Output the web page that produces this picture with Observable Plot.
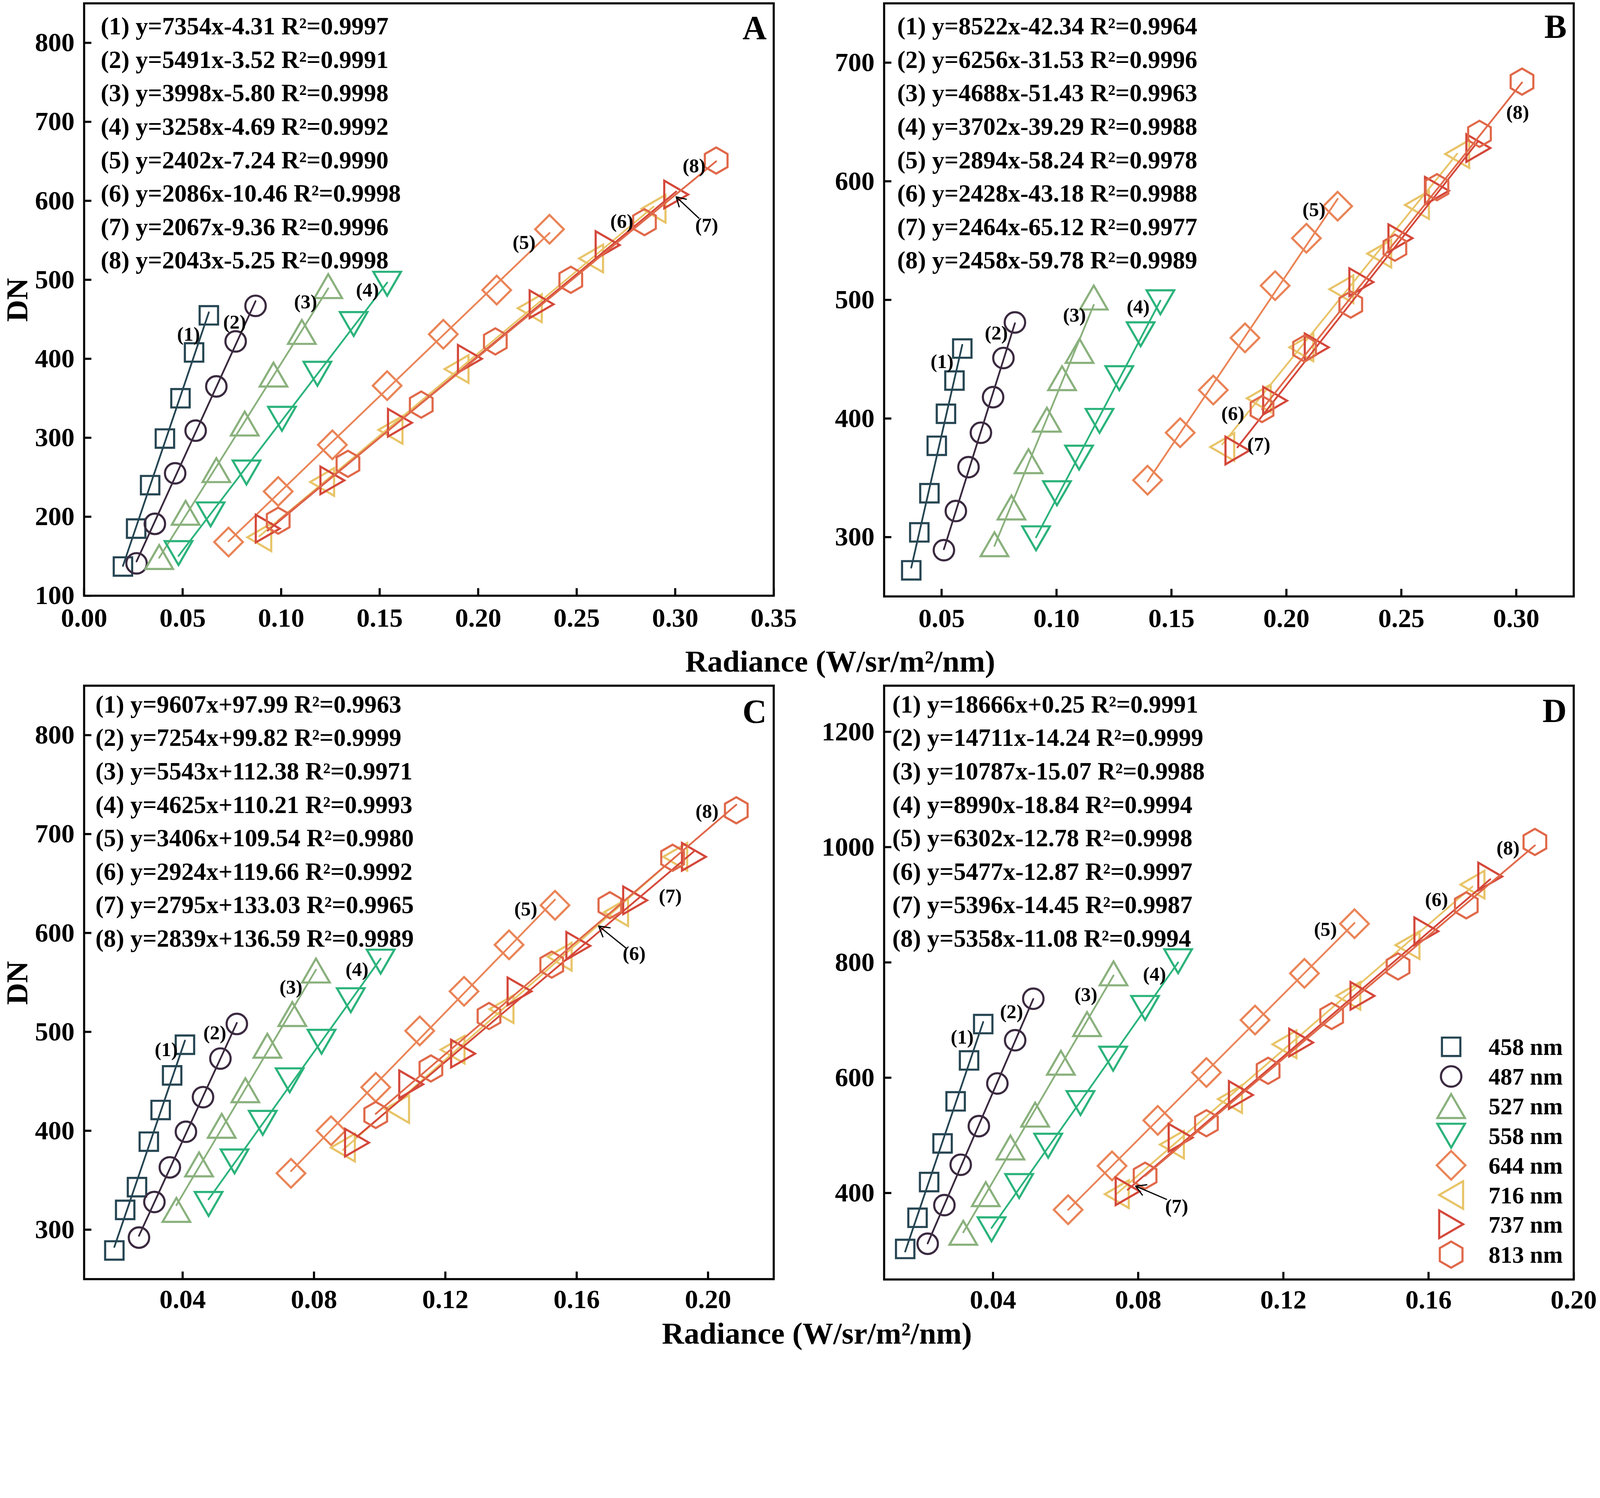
<!DOCTYPE html>
<html><head><meta charset="utf-8">
<script src="https://cdn.jsdelivr.net/npm/d3@7"></script>
<script src="https://cdn.jsdelivr.net/npm/@observablehq/plot@0.6"></script>
<style>
html,body{margin:0;padding:0;background:#fff;overflow:hidden;}
#page{position:relative;width:4536px;height:3834px;background:#fff;overflow:hidden;transform-origin:0 0;}
.panel{position:absolute;}
#overlay{position:absolute;left:0;top:0;pointer-events:none;}
</style></head>
<body><div id="page"></div>
<script>
// ---------------- data ----------------
const wavelengths = ["458 nm","487 nm","527 nm","558 nm","644 nm","716 nm","737 nm","813 nm"];
const COLORS = ["#264653","#3b2a40","#8ab17d","#2bb37b","#ea8457","#e8c468","#d4473a","#e0694a"];

// Panel A
const radA = [
  [0.0197,0.0264,0.0335,0.0410,0.0489,0.0558,0.0633],
  [0.0266,0.0359,0.0462,0.0566,0.0671,0.0769,0.0870],
  [0.0381,0.0515,0.0671,0.0815,0.0961,0.1105,0.1239],
  [0.0479,0.0642,0.0824,0.1004,0.1184,0.1368,0.1538],
  [0.0733,0.0985,0.1260,0.1538,0.1823,0.2094,0.2362],
  [0.0889,0.1208,0.1555,0.1890,0.2262,0.2573,0.2890],
  [0.0932,0.1260,0.1603,0.1958,0.2322,0.2657,0.3005],
  [0.0985,0.1339,0.1711,0.2087,0.2470,0.2844,0.3208]];
const dnA = [
  [137,185,240,299,350,408,455],
  [141,191,255,309,365,422,467],
  [149,205,259,318,380,434,492],
  [154,203,256,324,381,444,495],
  [168,232,291,366,431,487,564],
  [174,244,310,387,464,527,590],
  [185,246,319,400,469,544,608],
  [195,267,342,422,500,573,651]];
const eqA = [
  "(1) y=7354x-4.31 R²=0.9997","(2) y=5491x-3.52 R²=0.9991","(3) y=3998x-5.80 R²=0.9998",
  "(4) y=3258x-4.69 R²=0.9992","(5) y=2402x-7.24 R²=0.9990","(6) y=2086x-10.46 R²=0.9998",
  "(7) y=2067x-9.36 R²=0.9996","(8) y=2043x-5.25 R²=0.9998"];
const xTicksA = [0,0.05,0.10,0.15,0.20,0.25,0.30,0.35];
const yTicksA = [100,200,300,400,500,600,700,800];
const labelsA = [
  {t:"(1)",x:0.0530,y:431},{t:"(2)",x:0.0764,y:446},{t:"(3)",x:0.1124,y:472},{t:"(4)",x:0.1438,y:487},
  {t:"(5)",x:0.2233,y:547},{t:"(6)",x:0.2729,y:574},{t:"(7)",x:0.3160,y:569},{t:"(8)",x:0.3096,y:644}];
const arrowsA = [{x1:0.3120,y1:578,x2:0.3005,y2:605}];

// Panel B
const radB = [
  [0.0368,0.0403,0.0447,0.0479,0.0519,0.0556,0.0590],
  [0.0510,0.0562,0.0617,0.0671,0.0724,0.0769,0.0819],
  [0.0730,0.0804,0.0878,0.0958,0.1024,0.1100,0.1162],
  [0.0911,0.1002,0.1098,0.1187,0.1273,0.1366,0.1452],
  [0.1396,0.1538,0.1682,0.1820,0.1951,0.2087,0.2223],
  [0.1721,0.1880,0.2065,0.2239,0.2404,0.2568,0.2743],
  [0.1787,0.1951,0.2132,0.2326,0.2496,0.2655,0.2835],
  [0.1894,0.2079,0.2280,0.2472,0.2655,0.2840,0.3025]];
const dnB = [
  [272,304,337,377,404,432,459],
  [289,322,359,388,418,451,481],
  [294,325,364,399,434,457,502],
  [299,337,367,398,434,471,498],
  [348,388,424,468,512,552,579],
  [376,417,460,509,539,580,623],
  [373,415,460,515,552,592,628],
  [408,459,496,544,595,640,684]];
const eqB = [
  "(1) y=8522x-42.34 R²=0.9964","(2) y=6256x-31.53 R²=0.9996","(3) y=4688x-51.43 R²=0.9963",
  "(4) y=3702x-39.29 R²=0.9988","(5) y=2894x-58.24 R²=0.9978","(6) y=2428x-43.18 R²=0.9988",
  "(7) y=2464x-65.12 R²=0.9977","(8) y=2458x-59.78 R²=0.9989"];
const xTicksB = [0.05,0.10,0.15,0.20,0.25,0.30];
const yTicksB = [300,400,500,600,700];
const labelsB = [
  {t:"(1)",x:0.0502,y:448},{t:"(2)",x:0.0738,y:472},{t:"(3)",x:0.1078,y:487},{t:"(4)",x:0.1355,y:494},
  {t:"(5)",x:0.2120,y:576},{t:"(6)",x:0.1767,y:404},{t:"(7)",x:0.1880,y:378},{t:"(8)",x:0.3006,y:658}];
const arrowsB = [];

// Panel C
const radC = [
  [0.0192,0.0225,0.0261,0.0297,0.0333,0.0368,0.0407],
  [0.0267,0.0314,0.0361,0.0410,0.0462,0.0515,0.0565],
  [0.0381,0.0450,0.0519,0.0591,0.0658,0.0734,0.0806],
  [0.0479,0.0558,0.0644,0.0726,0.0823,0.0912,0.1003],
  [0.0730,0.0852,0.0988,0.1122,0.1257,0.1394,0.1534],
  [0.0888,0.1053,0.1222,0.1371,0.1548,0.1720,0.1900],
  [0.0931,0.1096,0.1254,0.1426,0.1605,0.1778,0.1957],
  [0.0988,0.1156,0.1333,0.1524,0.1701,0.1892,0.2086]];
const dnC = [
  [279,320,343,389,421,456,487],
  [292,328,363,399,434,473,508],
  [320,366,405,441,486,518,562],
  [326,369,408,451,490,532,571],
  [357,400,444,501,541,588,628],
  [383,422,482,523,576,621,677],
  [388,447,478,541,587,633,677],
  [416,463,516,568,628,676,724]];
const eqC = [
  "(1) y=9607x+97.99 R²=0.9963","(2) y=7254x+99.82 R²=0.9999","(3) y=5543x+112.38 R²=0.9971",
  "(4) y=4625x+110.21 R²=0.9993","(5) y=3406x+109.54 R²=0.9980","(6) y=2924x+119.66 R²=0.9992",
  "(7) y=2795x+133.03 R²=0.9965","(8) y=2839x+136.59 R²=0.9989"];
const xTicksC = [0.04,0.08,0.12,0.16,0.20];
const yTicksC = [300,400,500,600,700,800];
const labelsC = [
  {t:"(1)",x:0.0350,y:482},{t:"(2)",x:0.0498,y:499},{t:"(3)",x:0.0730,y:545},{t:"(4)",x:0.0931,y:563},
  {t:"(5)",x:0.1445,y:624},{t:"(6)",x:0.1775,y:579},{t:"(7)",x:0.1885,y:637},{t:"(8)",x:0.1997,y:723}];
const arrowsC = [{x1:0.1749,y1:585,x2:0.1667,y2:607}];

// Panel D
const radD = [
  [0.0158,0.0192,0.0224,0.0261,0.0297,0.0334,0.0373],
  [0.0220,0.0266,0.0311,0.0361,0.0412,0.0461,0.0511],
  [0.0318,0.0380,0.0448,0.0516,0.0587,0.0659,0.0732],
  [0.0396,0.0472,0.0552,0.0641,0.0731,0.0819,0.0910],
  [0.0607,0.0728,0.0854,0.0988,0.1122,0.1258,0.1396],
  [0.0741,0.0893,0.1053,0.1203,0.1379,0.1542,0.1721],
  [0.0771,0.0917,0.1083,0.1249,0.1418,0.1594,0.1770],
  [0.0819,0.0988,0.1158,0.1333,0.1516,0.1704,0.1893]];
const dnD = [
  [303,357,419,486,559,630,693],
  [312,379,449,516,590,665,737],
  [331,398,479,536,626,693,781],
  [337,412,482,556,633,721,802],
  [371,447,526,609,700,781,867],
  [398,484,563,658,742,830,935],
  [403,496,570,661,742,854,949],
  [430,521,612,707,793,899,1009]];
const eqD = [
  "(1) y=18666x+0.25 R²=0.9991","(2) y=14711x-14.24 R²=0.9999","(3) y=10787x-15.07 R²=0.9988",
  "(4) y=8990x-18.84 R²=0.9994","(5) y=6302x-12.78 R²=0.9998","(6) y=5477x-12.87 R²=0.9997",
  "(7) y=5396x-14.45 R²=0.9987","(8) y=5358x-11.08 R²=0.9994"];
const xTicksD = [0.04,0.08,0.12,0.16,0.20];
const yTicksD = [400,600,800,1000,1200];
const labelsD = [
  {t:"(1)",x:0.0315,y:670},{t:"(2)",x:0.0451,y:714},{t:"(3)",x:0.0656,y:744},{t:"(4)",x:0.0845,y:779},
  {t:"(5)",x:0.1316,y:857},{t:"(6)",x:0.1622,y:909},{t:"(7)",x:0.0906,y:377},{t:"(8)",x:0.1819,y:998}];
const arrowsD = [{x1:0.0878,y1:389,x2:0.0793,y2:412}];

// ---------------- symbols ----------------
function poly(pts){
  return {draw(c, s){
    const k = Math.sqrt(s/Math.PI);
    c.moveTo(pts[0][0]*k, pts[0][1]*k);
    for (let i=1;i<pts.length;i++) c.lineTo(pts[i][0]*k, pts[i][1]*k);
    c.closePath();
  }};
}
const TA = 2.7, TH = TA*Math.sqrt(3)/2;
const SYMBOLS = [
  poly([[-0.9,-0.9],[0.9,-0.9],[0.9,0.9],[-0.9,0.9]]),
  d3.symbolCircle,
  poly([[0,-TH/2],[TA/2,TH/2],[-TA/2,TH/2]]),
  poly([[0,TH/2],[TA/2,-TH/2],[-TA/2,-TH/2]]),
  poly([[0,-1.4],[1.4,0],[0,1.4],[-1.4,0]]),
  poly([[-TH/2,0],[TH/2,-TA/2],[TH/2,TA/2]]),
  poly([[TH/2,0],[-TH/2,-TA/2],[-TH/2,TA/2]]),
  poly(d3.range(6).map(i=>[1.28*Math.sin(i*Math.PI/3), -1.28*Math.cos(i*Math.PI/3)]))
];
const R = 29;
const FONT = '"Liberation Serif","Times New Roman",serif';

// ---------------- panels ----------------
const panels = [
  {rad:radA, dn:dnA, eq:eqA, xt:xTicksA, yt:yTicksA, labels:labelsA, arrows:arrowsA, letter:"A",
   left:0, top:0, w:2268, h:1840, ml:238, mr:75, mt:9, mb:152, xdom:[0,0.35], ydom:[100,850], eqdx:47, eqdy:21, letdy:34, pad:34},
  {rad:radB, dn:dnB, eq:eqB, xt:xTicksB, yt:yTicksB, labels:labelsB, arrows:arrowsB, letter:"B",
   left:2268, top:0, w:2268, h:1840, ml:238, mr:75, mt:9, mb:150, xdom:[0.025,0.325], ydom:[250,750], eqdx:37, eqdy:21, letdy:31, pad:34},
  {rad:radC, dn:dnC, eq:eqC, xt:xTicksC, yt:yTicksC, labels:labelsC, arrows:arrowsC, letter:"C",
   left:0, top:1840, w:2268, h:1994, ml:238, mr:75, mt:103, mb:209, xdom:[0.01,0.22], ydom:[250,850], eqdx:32, eqdy:9, letdy:38, pad:29},
  {rad:radD, dn:dnD, eq:eqD, xt:xTicksD, yt:yTicksD, labels:labelsD, arrows:arrowsD, letter:"D",
   left:2268, top:1840, w:2268, h:1994, ml:238, mr:75, mt:103, mb:208, xdom:[0.01,0.20], ydom:[250,1280], eqdx:23, eqdy:9, letdy:35, pad:29}
];

const page = document.getElementById("page");
for (const p of panels) {
  const fw = p.w - p.ml - p.mr, fh = p.h - p.mt - p.mb;
  const marks = [];
  p.rad.forEach((xs, i) => {
    const rows = xs.map((x, j) => ({x, y: p.dn[i][j], wl: wavelengths[i]}));
    marks.push(Plot.dot(rows, {x:"x", y:"y", symbol: SYMBOLS[i], r: R, stroke: COLORS[i], strokeWidth: 6, fill: "none"}));
    marks.push(Plot.linearRegressionY(rows, {x:"x", y:"y", stroke: COLORS[i], strokeWidth: 5, ci: 0}));
  });
  marks.push(Plot.tickY(p.yt, {y: d => d, insetRight: fw - 21, stroke: "black", strokeWidth: 6}));
  marks.push(Plot.tickX(p.xt, {x: d => d, insetTop: fh - 21, stroke: "black", strokeWidth: 6}));
  marks.push(Plot.frame({stroke: "black", strokeWidth: 6}));
  marks.push(Plot.axisX({ticks: p.xt, tickSize: 0, tickPadding: p.pad, tickFormat: d3.format(".2f"),
    fontSize: 75, fontWeight: "bold", fontFamily: FONT, fill: "black", label: null}));
  marks.push(Plot.axisY({ticks: p.yt, tickSize: 0, tickPadding: 27, tickFormat: d3.format("d"),
    fontSize: 75, fontWeight: "bold", fontFamily: FONT, fill: "black", label: null}));
  marks.push(Plot.text([p.eq.join("\n")], {text: d => d, frameAnchor: "top-left", textAnchor: "start", lineAnchor: "top",
    dx: p.eqdx, dy: p.eqdy, fontSize: 70, fontWeight: "bold", fontFamily: FONT, lineHeight: 1.354, fill: "black"}));
  marks.push(Plot.text([p.letter], {text: d => d, frameAnchor: "top-right", textAnchor: "end", lineAnchor: "top",
    dx: -20, dy: p.letdy, fontSize: 95, fontWeight: "bold", fontFamily: FONT, fill: "black"}));
  marks.push(Plot.text(p.labels, {x: "x", y: "y", text: "t", fontSize: 56, fontWeight: "bold", fontFamily: FONT, fill: "black"}));
  if (p.arrows.length) marks.push(Plot.arrow(p.arrows, {x1:"x1", y1:"y1", x2:"x2", y2:"y2", stroke: "black", strokeWidth: 3.5, headLength: 30}));

  const svg = Plot.plot({
    width: p.w, height: p.h,
    marginLeft: p.ml, marginRight: p.mr, marginTop: p.mt, marginBottom: p.mb,
    x: {type: "linear", domain: p.xdom},
    y: {type: "linear", domain: p.ydom},
    style: {fontFamily: FONT, background: "transparent", overflow: "visible", maxWidth: "none"},
    marks
  });
  svg.setAttribute("width", p.w);
  svg.setAttribute("height", p.h);
  svg.style.width = p.w + "px";
  svg.style.height = p.h + "px";
  const div = document.createElement("div");
  div.className = "panel";
  div.style.left = p.left + "px";
  div.style.top = p.top + "px";
  div.style.width = p.w + "px";
  div.style.height = p.h + "px";
  div.appendChild(svg);
  page.appendChild(div);
}

// ---------------- page-level titles and legend ----------------
const ov = d3.select(page).append("svg").attr("id","overlay").attr("width",4536).attr("height",3834)
  .style("font-family", FONT).style("font-weight","bold");
ov.append("text").attr("x",2382).attr("y",1904).attr("text-anchor","middle").attr("font-size",87).text("Radiance (W/sr/m²/nm)");
ov.append("text").attr("x",2316).attr("y",3808).attr("text-anchor","middle").attr("font-size",87).text("Radiance (W/sr/m²/nm)");
ov.append("text").attr("transform","translate(78,850) rotate(-90)").attr("text-anchor","middle").attr("font-size",86).text("DN");
ov.append("text").attr("transform","translate(78,2786) rotate(-90)").attr("text-anchor","middle").attr("font-size",86).text("DN");

const legY = [2967,3051,3135,3219,3303,3387,3470,3556];
const leg = ov.append("g");
wavelengths.forEach((w, i) => {
  leg.append("path").attr("transform", `translate(4114,${legY[i]})`)
    .attr("d", d3.symbol(SYMBOLS[i], Math.PI*R*R)())
    .attr("fill","none").attr("stroke", COLORS[i]).attr("stroke-width", 6);
  leg.append("text").attr("x", 4220).attr("y", legY[i]).attr("dy","0.35em").attr("font-size", 67).text(w);
});

// fit the page to the viewport if the viewport is not exactly 4536 CSS px wide
function fit(){
  const vw = document.documentElement.clientWidth || window.innerWidth;
  const vh = document.documentElement.clientHeight || window.innerHeight;
  const s = Math.min(vw/4536, vh/3834);
  page.style.transform = Math.abs(s-1) > 0.001 ? `scale(${s})` : "";
}
fit();
window.addEventListener("resize", fit);
</script>
</body></html>
